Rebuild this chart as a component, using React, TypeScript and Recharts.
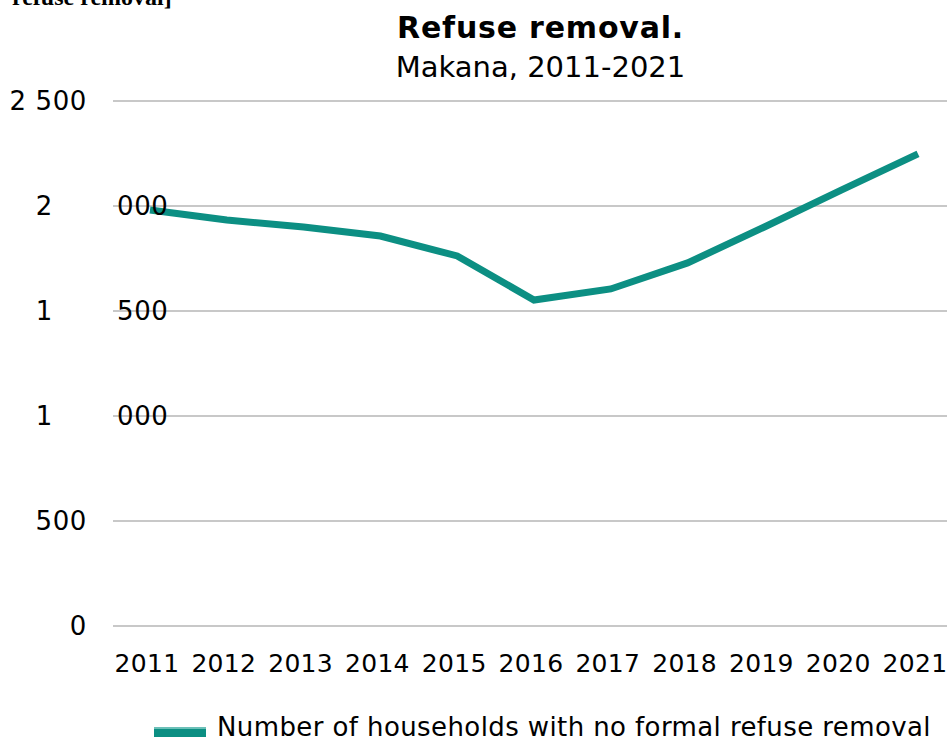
import React from "react";
import { LineChart, Line, XAxis, YAxis, CartesianGrid } from "recharts";

const years = ["2011", "2012", "2013", "2014", "2015", "2016", "2017", "2018", "2019", "2020", "2021"];
const households = [1981, 1933, 1900, 1857, 1762, 1552, 1605, 1729, 1900, 2076, 2248];
const yTicks = [0, 500, 1000, 1500, 2000, 2500];

const data = years.map((y, i) => ({ year: y, value: households[i] }));

const FONT = "'DejaVu Sans', Verdana, sans-serif";

const YTick = (props: any) => {
  const { y, payload } = props;
  const v: number = payload.value;
  const common = { fontSize: 26, fontFamily: FONT, fill: "#000", letterSpacing: 0.6 };
  if (v === 0 || v === 500 || v === 2500) {
    const label = v === 2500 ? "2 500" : String(v);
    return (
      <text x={87} y={y} dy={9} textAnchor="end" {...common}>
        {label}
      </text>
    );
  }
  const thousands = Math.floor(v / 1000);
  const rest = String(v % 1000).padStart(3, "0");
  return (
    <g>
      <text x={53} y={y} dy={9} textAnchor="end" {...common}>
        {thousands}
      </text>
      <text x={117} y={y} dy={9} textAnchor="start" {...common}>
        {rest}
      </text>
    </g>
  );
};

const XTick = (props: any) => {
  const { x, y, payload } = props;
  return (
    <text x={x - 3} y={y} dy={46} textAnchor="middle" fontSize={25} fontFamily={FONT} fill="#000" letterSpacing={0.3}>
      {payload.value}
    </text>
  );
};

export default function App() {
  return (
    <div style={{ position: "absolute", left: 0, top: 0, width: 947, height: 740, background: "#fff", overflow: "hidden" }}>
      <LineChart width={947} height={740} data={data} margin={{ top: 101, right: 0, bottom: 0, left: 0 }}>
        <CartesianGrid vertical={false} stroke="#c8c8c8" strokeWidth={2} />
        <XAxis
          dataKey="year"
          axisLine={false}
          tickLine={false}
          tickSize={0}
          tickMargin={0}
          height={114}
          padding={{ left: 37, right: 29 }}
          tick={<XTick />}
          interval={0}
        />
        <YAxis
          domain={[0, 2500]}
          ticks={yTicks}
          width={113}
          axisLine={false}
          tickLine={false}
          tickSize={0}
          tickMargin={0}
          tick={<YTick />}
          interval={0}
        />
        <Line
          type="linear"
          dataKey="value"
          stroke="#0c8f83"
          strokeWidth={7}
          dot={false}
          activeDot={false}
          isAnimationActive={false}
        />
      </LineChart>
      <svg width={947} height={740} style={{ position: "absolute", left: 0, top: 0, pointerEvents: "none" }}>
        <text x={12} y={5} fontSize={24} fontWeight="bold" fontFamily="'Liberation Serif', serif" fill="#000">
          refuse removal]
        </text>
        <text x={540.5} y={38} textAnchor="middle" fontSize={30} fontWeight="bold" fontFamily={FONT} fill="#000" letterSpacing={0.8}>
          Refuse removal.
        </text>
        <text x={540.5} y={77} textAnchor="middle" fontSize={29} fontFamily={FONT} fill="#000">
          Makana, 2011-2021
        </text>
        <rect x={154} y={727} width={52} height={10} fill="#0c8f83" />
        <rect x={154} y={727} width={52} height={2} fill="#6cc0b8" />
        <text x={217} y={736} fontSize={26} fontFamily={FONT} fill="#000" letterSpacing={0.4}>
          Number of households with no formal refuse removal
        </text>
      </svg>
    </div>
  );
}
